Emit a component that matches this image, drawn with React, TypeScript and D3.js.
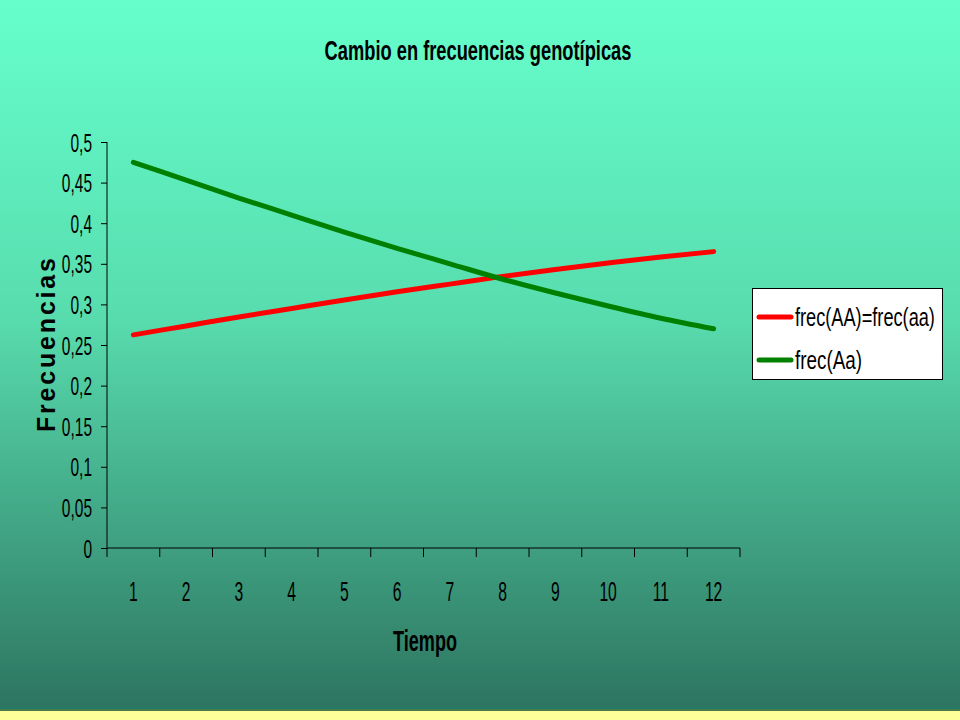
import React, { useEffect, useRef } from "react";
import * as d3 from "d3";

const categories = ["1", "2", "3", "4", "5", "6", "7", "8", "9", "10", "11", "12"];
const frecAAaa = [0.2625, 0.2735, 0.2845, 0.295, 0.3055, 0.3155, 0.325, 0.3345, 0.343, 0.351, 0.3585, 0.365];
const frecAa = [0.475, 0.453, 0.431, 0.41, 0.389, 0.369, 0.35, 0.331, 0.314, 0.298, 0.283, 0.27];
const yTicks = [0, 0.05, 0.1, 0.15, 0.2, 0.25, 0.3, 0.35, 0.4, 0.45, 0.5];
const yTickLabels = ["0", "0,05", "0,1", "0,15", "0,2", "0,25", "0,3", "0,35", "0,4", "0,45", "0,5"];
const seriesNames = ["frec(AA)=frec(aa)", "frec(Aa)"];
const seriesColors = ["#ff0000", "#008000"];
const titleText = "Cambio en frecuencias genotípicas";
const xTitle = "Tiempo";
const yTitle = "Frecuencias";

const W = 960;
const H = 720;
const FONT = "'Liberation Sans', Arial, sans-serif";

export default function App() {
  const ref = useRef<SVGSVGElement>(null);

  useEffect(() => {
    const svg = d3.select(ref.current);
    svg.selectAll("*").remove();

    const defs = svg.append("defs");
    const grad = defs
      .append("linearGradient")
      .attr("id", "bg")
      .attr("x1", 0)
      .attr("y1", 0)
      .attr("x2", 0)
      .attr("y2", 1);
    grad.append("stop").attr("offset", "0%").attr("stop-color", "#66ffcc");
    grad.append("stop").attr("offset", "45%").attr("stop-color", "#58dcae");
    grad.append("stop").attr("offset", "100%").attr("stop-color", "#2d7560");

    svg.append("rect").attr("x", 0).attr("y", 0).attr("width", W).attr("height", 707).attr("fill", "url(#bg)");
    svg.append("rect").attr("x", 0).attr("y", 707).attr("width", W).attr("height", 2).attr("fill", "#237a68");
    svg.append("rect").attr("x", 0).attr("y", 709).attr("width", W).attr("height", 2).attr("fill", "#4a7a48");
    svg.append("rect").attr("x", 0).attr("y", 711).attr("width", W).attr("height", 9).attr("fill", "#ffff99");

    const x = d3.scaleBand<string>().domain(categories).range([107, 740]).padding(0);
    const y = d3.scaleLinear().domain([0, 0.5]).range([548, 142]);
    const cx = (c: string) => (x(c) as number) + x.bandwidth() / 2;

    // Y axis
    const ySx = 0.62;
    const yAxis = d3
      .axisLeft(y)
      .tickValues(yTicks)
      .tickSize(6)
      .tickPadding(14)
      .tickFormat((d, i) => yTickLabels[i]);
    const gy = svg.append("g").attr("transform", "translate(107,0)").call(yAxis);
    gy.select(".domain").attr("stroke", "#000").attr("stroke-width", 1).attr("d", `M0,${y(0.5)}V${y(0)}`);
    gy.selectAll(".tick line").attr("stroke", "#000");
    gy.selectAll(".tick text")
      .attr("font-family", FONT)
      .attr("font-size", 25)
      .attr("fill", "#000")
      .attr("x", -15 / ySx)
      .attr("dy", "0.36em")
      .attr("transform", `scale(${ySx},1)`);

    // X axis: labels at centres, ticks at boundaries
    const xSx = 0.56;
    const xAxis = d3.axisBottom(x).tickSize(0).tickPadding(33);
    const gx = svg.append("g").attr("transform", "translate(0,548)").call(xAxis);
    gx.select(".domain").attr("stroke", "#000").attr("d", `M107,0H740`);
    gx.selectAll(".tick text")
      .attr("font-family", FONT)
      .attr("font-size", 28)
      .attr("fill", "#000")
      .attr("transform", `scale(${xSx},1)`);
    const bounds = categories.map((c) => x(c) as number).concat([x.range()[1]]);
    gx.selectAll("line.bt")
      .data(bounds)
      .enter()
      .append("line")
      .attr("class", "bt")
      .attr("x1", (d) => d)
      .attr("x2", (d) => d)
      .attr("y1", 0)
      .attr("y2", 9)
      .attr("stroke", "#000");

    // Lines
    const line = d3
      .line<number>()
      .x((d, i) => cx(categories[i]))
      .y((d) => y(d))
      .curve(d3.curveMonotoneX);
    [frecAAaa, frecAa].forEach((s, k) => {
      svg
        .append("path")
        .attr("d", line(s) as string)
        .attr("fill", "none")
        .attr("stroke", seriesColors[k])
        .attr("stroke-width", 5)
        .attr("stroke-linecap", "round")
        .attr("stroke-linejoin", "round");
    });

    const squeezeText = (
      parent: any,
      str: string,
      px: number,
      py: number,
      size: number,
      bold: boolean,
      targetW: number,
      anchor: string
    ) => {
      const g = parent.append("g").attr("transform", `translate(${px},${py})`);
      const t = g
        .append("text")
        .attr("x", 0)
        .attr("y", 0)
        .attr("text-anchor", anchor)
        .attr("font-family", FONT)
        .attr("font-weight", bold ? "bold" : "normal")
        .attr("font-size", size)
        .attr("fill", "#000")
        .text(str);
      const w = (t.node() as SVGTextElement).getComputedTextLength();
      t.attr("transform", `scale(${targetW / w},1)`);
      return t;
    };

    // Title
    squeezeText(svg, titleText, 478, 60, 27, true, 307, "middle");
    // X title
    squeezeText(svg, xTitle, 425, 651, 30, true, 64, "middle");

    // Y title
    svg
      .append("text")
      .attr("transform", "translate(55,345) rotate(-90)")
      .attr("text-anchor", "middle")
      .attr("font-family", FONT)
      .attr("font-weight", "bold")
      .attr("font-size", 25)
      .attr("textLength", 174)
      .attr("lengthAdjust", "spacing")
      .text(yTitle);

    // Legend
    const lg = svg.append("g").attr("transform", "translate(752,288)");
    lg.append("rect").attr("x", 0.5).attr("y", 0.5).attr("width", 190).attr("height", 91).attr("fill", "#fff").attr("stroke", "#000");
    const rowY = [29, 72];
    const textW = [140, 67];
    seriesNames.forEach((n, k) => {
      lg.append("line")
        .attr("x1", 7)
        .attr("x2", 39)
        .attr("y1", rowY[k])
        .attr("y2", rowY[k])
        .attr("stroke", seriesColors[k])
        .attr("stroke-width", 5)
        .attr("stroke-linecap", "round");
      squeezeText(lg, n, 43, rowY[k] + 9, 26, false, textW[k], "start");
    });
  }, []);

  return (
    <svg
      ref={ref}
      width={W}
      height={H}
      style={{ position: "fixed", left: 0, top: 0, display: "block" }}
    />
  );
}
